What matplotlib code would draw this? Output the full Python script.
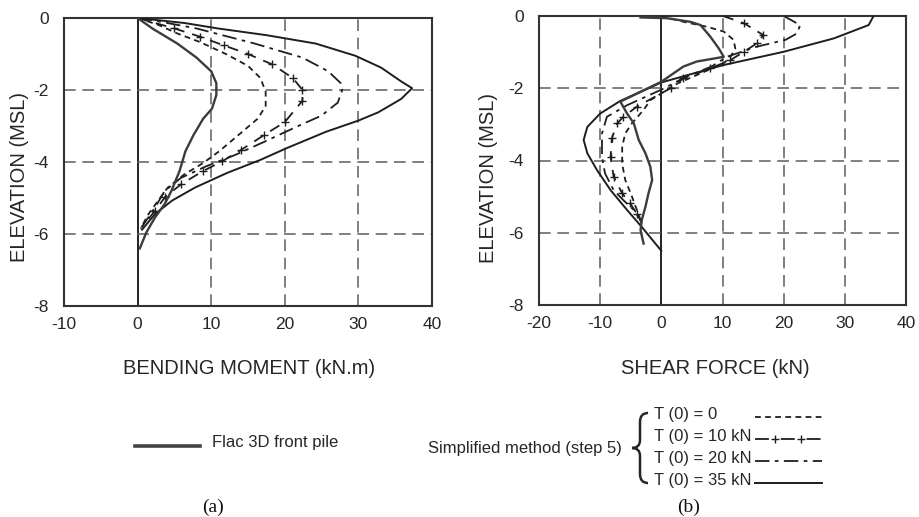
import matplotlib
matplotlib.use("Agg")
import matplotlib.pyplot as plt
import matplotlib.transforms as mtransforms
from matplotlib.lines import Line2D
from matplotlib.path import Path
from matplotlib.patches import PathPatch

# ---------------- data ----------------
# Bending moment (kN.m) vs elevation (MSL)
flac_m_elev = [0, -0.29, -0.71, -1.1, -1.48, -1.81, -2.14, -2.52, -2.8, -3.25, -3.7, -4.25, -4.8, -5.16, -5.53, -5.95, -6.4]
flac_m_val = [0, 2.0, 5.4, 8.0, 10.0, 10.7, 10.7, 10.1, 8.9, 7.6, 6.5, 5.7, 4.6, 3.7, 2.4, 1.2, 0.3]

t0_m_elev = [0, -0.19, -0.43, -0.67, -1.0, -1.33, -1.67, -2.05, -2.45, -2.8, -3.25, -3.7, -4.03, -4.35, -4.71, -5.07, -5.44, -5.85]
t0_m_val = [0, 2.8, 5.4, 8.5, 12.0, 15.0, 16.7, 17.4, 17.4, 16.3, 13.7, 11.1, 8.9, 6.3, 4.1, 2.8, 1.5, 0.4]

t10_m_elev = [0, -0.29, -0.52, -0.76, -1.0, -1.29, -1.67, -2.0, -2.3, -2.89, -3.25, -3.66, -3.98, -4.25, -4.62, -4.98, -5.35, -5.82]
t10_m_val = [0, 5.0, 8.5, 11.7, 15.0, 18.3, 21.1, 22.4, 22.4, 20.0, 17.2, 14.1, 11.5, 8.9, 5.9, 3.7, 2.4, 0.5]

t20_m_elev = [0, -0.1, -0.29, -0.71, -1.1, -1.48, -1.81, -2.0, -2.35, -2.71, -3.03, -3.44, -3.8, -4.12, -4.44, -4.8, -5.25, -5.8]
t20_m_val = [0, 3.0, 8.0, 15.9, 22.4, 25.9, 27.6, 27.8, 27.2, 25.0, 21.5, 17.2, 13.3, 9.3, 5.9, 3.7, 2.4, 0.6]

t35_m_elev = [0, -0.14, -0.29, -0.48, -0.71, -1.05, -1.38, -1.76, -1.95, -2.25, -2.62, -2.85, -3.16, -3.62, -3.94, -4.3, -4.71, -5.07, -5.44, -5.88]
t35_m_val = [0, 6.4, 10.9, 17.6, 24.2, 29.6, 33.1, 35.8, 37.3, 35.8, 32.7, 30.0, 25.6, 20.2, 16.7, 12.2, 7.8, 4.7, 2.4, 0.6]

# Shear force (kN) vs elevation (MSL)
flac_v_elev = [-0.04, -0.06, -0.16, -0.25, -0.57, -0.9, -1.13, -1.26, -1.4, -1.82, -2.37, -2.7, -2.97, -3.43, -3.8, -4.17, -4.54, -4.91, -5.28, -5.65, -5.93, -6.3]
flac_v_val = [-3.4, 0.9, 4.7, 6.4, 8.0, 9.4, 10.2, 5.8, 3.6, 0.0, -6.7, -5.6, -4.5, -3.7, -2.6, -1.8, -1.5, -2.1, -2.6, -3.2, -3.4, -2.9]

t0_v_elev = [0, -0.16, -0.3, -0.43, -0.66, -0.9, -1.13, -1.31, -1.59, -1.87, -2.33, -2.6, -2.97, -3.25, -3.62, -4.09, -4.54, -5.0, -5.37, -5.74]
t0_v_val = [0, 3.6, 7.5, 10.2, 11.8, 12.1, 11.3, 10.2, 6.4, 2.6, -1.8, -2.9, -4.8, -5.9, -6.4, -6.4, -5.9, -4.8, -4.0, -3.2]

t10_v_elev = [0, -0.2, -0.53, -0.76, -0.99, -1.22, -1.45, -1.73, -2.0, -2.51, -2.79, -2.97, -3.39, -3.9, -4.45, -4.91, -5.19, -5.47, -5.74]
t10_v_val = [10.1, 13.5, 16.7, 15.6, 13.5, 11.3, 8.0, 3.6, 1.5, -4.0, -6.2, -7.2, -8.1, -8.3, -7.8, -6.4, -5.1, -4.0, -3.2]

t20_v_elev = [0, -0.25, -0.48, -0.66, -0.85, -1.13, -1.4, -1.7, -2.0, -2.47, -2.79, -3.25, -3.9, -4.36, -4.82, -5.1, -5.37, -5.65]
t20_v_val = [20.0, 22.7, 22.2, 20.3, 15.6, 10.7, 8.2, 3.8, 0.5, -5.6, -8.9, -9.7, -9.7, -9.2, -7.8, -6.2, -4.5, -3.4]

t35_v_elev = [0, -0.25, -0.62, -0.99, -1.36, -1.84, -2.35, -2.7, -3.07, -3.43, -3.8, -4.27, -4.82, -5.37, -5.84, -6.5]
t35_v_val = [34.7, 33.9, 28.2, 20.0, 10.1, 0.0, -6.7, -10.0, -12.1, -12.7, -12.1, -10.5, -8.3, -5.6, -3.2, 0.0]

m_xticks = [-10, 0, 10, 20, 30, 40]
v_xticks = [-20, -10, 0, 10, 20, 30, 40]
elev_ticks = [-8, -6, -4, -2, 0]

flac_label = "Flac 3D front pile"
simplified_label = "Simplified method (step 5)"
series_labels = ["T (0) = 0", "T (0) = 10 kN", "T (0) = 20 kN", "T (0) = 35 kN"]
m_xlabel = "BENDING MOMENT (kN.m)"
v_xlabel = "SHEAR FORCE (kN)"
ylabel = "ELEVATION (MSL)"
panel_labels = ["(a)", "(b)"]

# ---------------- style ----------------
plt.rcParams['font.family'] = ['Liberation Sans', 'DejaVu Sans']
plt.rcParams['axes.unicode_minus'] = False

W, H = 919, 517
INK = '#262626'
GRID = '#6a6a6a'
LINE = '#1e1e1e'
FLAC = '#3c3c3c'

styles = [
    dict(color=LINE, lw=1.3, linestyle=(0, (3.2, 2.4))),
    dict(color=LINE, lw=1.3, linestyle=(0, (6.0, 4.5)), marker='+', markersize=6, markeredgewidth=1.0),
    dict(color=LINE, lw=1.3, linestyle=(0, (8.0, 3.0, 2.0, 3.0))),
    dict(color=LINE, lw=1.4, linestyle='-'),
]
flac_style = dict(color=FLAC, lw=1.7, linestyle='-')

fig = plt.figure(figsize=(W / 100, H / 100), dpi=100)
fig.patch.set_facecolor('white')
PX = mtransforms.Affine2D().scale(1 / W, -1 / H).translate(0, 1) + fig.transFigure

ax1 = fig.add_axes([64 / W, 1 - 306 / H, (432 - 64) / W, (306 - 18) / H])
ax2 = fig.add_axes([539 / W, 1 - 305 / H, (906 - 539) / W, (305 - 16) / H])


def setup(ax, xticks):
    ax.set_xlim(xticks[0], xticks[-1])
    ax.set_ylim(elev_ticks[0], elev_ticks[-1])
    ax.set_xticks(xticks)
    ax.set_yticks(elev_ticks)
    ax.tick_params(length=0, labelsize=12.5, colors=INK)
    ax.tick_params(axis='x', pad=8)
    ax.tick_params(axis='y', pad=11)
    for s in ax.spines.values():
        s.set_linewidth(1.5)
        s.set_color('#333333')
    for v in xticks[1:-1]:
        if v == 0:
            ax.axvline(v, color='#222222', lw=1.4, zorder=1)
        else:
            ax.axvline(v, color=GRID, lw=1.2, linestyle=(0, (7, 4)), zorder=1)
    for v in elev_ticks[1:-1]:
        ax.axhline(v, color=GRID, lw=1.2, linestyle=(0, (7, 4)), zorder=1)


setup(ax1, m_xticks)
setup(ax2, v_xticks)

m_series = [(t0_m_val, t0_m_elev), (t10_m_val, t10_m_elev), (t20_m_val, t20_m_elev), (t35_m_val, t35_m_elev)]
v_series = [(t0_v_val, t0_v_elev), (t10_v_val, t10_v_elev), (t20_v_val, t20_v_elev), (t35_v_val, t35_v_elev)]

for ax, series, flac in ((ax1, m_series, (flac_m_val, flac_m_elev)), (ax2, v_series, (flac_v_val, flac_v_elev))):
    for (xv, yv), st in zip(series, styles):
        kw = dict(st)
        if 'marker' in kw:
            kw['markevery'] = slice(1, -1, 1)
        ax.plot(xv, yv, zorder=3, **kw)
    ax.plot(flac[0], flac[1], zorder=4, **flac_style)

# axis titles
fig.text(20, 177, ylabel, transform=PX, rotation=90, ha='center', va='center', fontsize=14.5, color=INK)
fig.text(488, 178, ylabel, transform=PX, rotation=90, ha='center', va='center', fontsize=14.5, color=INK)
fig.text(249, 368, m_xlabel, transform=PX, ha='center', va='center', fontsize=14.5, color=INK)
fig.text(715, 368, v_xlabel, transform=PX, ha='center', va='center', fontsize=14.5, color=INK)

# legend (drawn manually, like the figure)
fig.add_artist(Line2D([135, 200], [446, 446], transform=PX, color='#444444', lw=2.6))
fig.text(212, 443, flac_label, transform=PX, ha='left', va='center', fontsize=12, color=INK)
fig.text(622, 448, simplified_label, transform=PX, ha='right', va='center', fontsize=12, color=INK)

rows_y = [415, 437, 459, 481]
for lbl, yy, st in zip(series_labels, rows_y, styles):
    fig.text(654, yy, lbl, transform=PX, ha='left', va='center', fontsize=12, color=INK)
    kw = dict(st)
    if 'marker' in kw:
        kw.pop('marker'); ms = kw.pop('markersize'); mew = kw.pop('markeredgewidth')
        kw['linestyle'] = (0, (7.7, 6.6))
        fig.add_artist(Line2D([755, 822], [yy + 2, yy + 2], transform=PX, **kw))
        fig.add_artist(Line2D([775, 801], [yy + 2, yy + 2], transform=PX, linestyle='none',
                              marker='+', markersize=ms, markeredgewidth=mew, color=LINE))
    else:
        fig.add_artist(Line2D([755, 822], [yy + 2, yy + 2], transform=PX, **kw))

# curly brace
verts = [(648, 413), (640, 413), (640, 422), (640, 440), (640, 448), (632, 448),
         (640, 448), (640, 456), (640, 474), (640, 483), (648, 483)]
codes = [Path.MOVETO, Path.CURVE3, Path.CURVE3, Path.LINETO, Path.CURVE3, Path.CURVE3,
         Path.CURVE3, Path.CURVE3, Path.LINETO, Path.CURVE3, Path.CURVE3]
fig.add_artist(PathPatch(Path(verts, codes), transform=PX, fill=False, lw=1.8, edgecolor=INK))

# panel labels
fig.text(213, 507, panel_labels[0], transform=PX, ha='center', va='center', fontsize=14,
         family=['Liberation Serif', 'DejaVu Serif'], color='#111111')
fig.text(689, 507, panel_labels[1], transform=PX, ha='center', va='center', fontsize=14,
         family=['Liberation Serif', 'DejaVu Serif'], color='#111111')

fig.savefig('out.png', dpi=100, facecolor='white')
